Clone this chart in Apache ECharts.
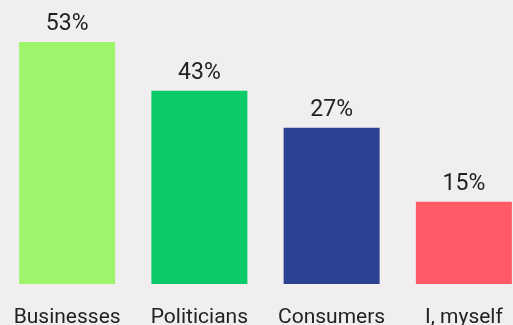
<!DOCTYPE html>
<html><head><meta charset="utf-8">
<script src="https://cdn.jsdelivr.net/npm/echarts@6/dist/echarts.min.js"></script>
<style>html,body{margin:0;padding:0;background:#f0eeef;}#c{width:513px;height:325px;}</style>
</head><body><div id="c"></div>
<script>
const categories = ['Businesses', 'Politicians', 'Consumers', 'I, myself'];
const values = [53, 42.3, 34.2, 18];
const valueLabels = ['53%', '43%', '27%', '15%'];
const colors = ['#9ef56c', '#0bca68', '#2c4192', '#ff5a66'];

const chart = echarts.init(document.getElementById('c'));
chart.setOption({
  backgroundColor: '#f0eeef',
  animation: false,
  grid: { left: 1, top: 10, bottom: 41, right: -17, outerBoundsMode: 'none', containLabel: false },
  xAxis: {
    type: 'category', data: categories,
    axisLine: { show: false }, axisTick: { show: false },
    axisLabel: { color: '#222', fontFamily: 'Roboto', fontSize: 21, margin: 23, interval: 0 }
  },
  yAxis: { type: 'value', min: 0, max: 60, show: false, splitLine: { show: false } },
  series: [{
    type: 'bar', barWidth: 96,
    data: values.map((v, i) => ({ value: v, itemStyle: { color: colors[i] } })),
    label: {
      show: true, position: 'top', distance: 6, color: '#222',
      fontFamily: 'Roboto', fontSize: 23,
      formatter: p => valueLabels[p.dataIndex]
    }
  }]
});
</script></body></html>
